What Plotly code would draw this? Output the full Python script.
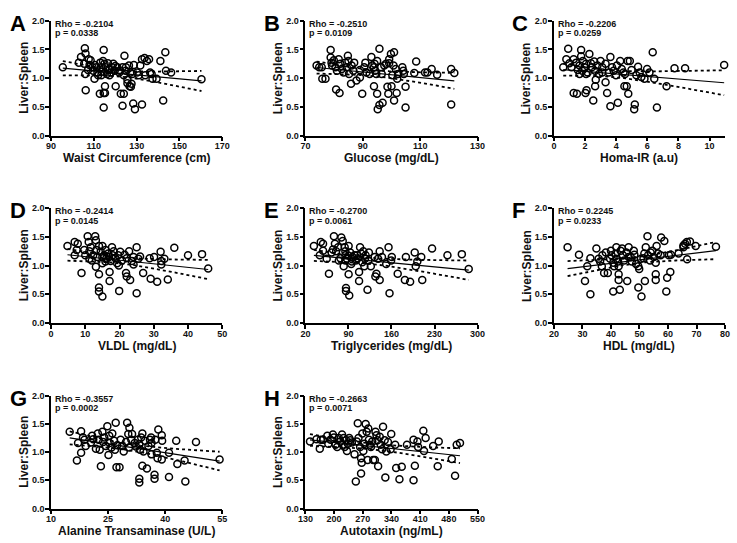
import numpy as np
import plotly.graph_objects as go

# ---------------- data ----------------
waist_x = [95.5,105.8,106.1,104,103,105.5,106,107.3,106.2,107.6,108.5,108,109.4,110.5,110.3,111.7,111.2,112.8,113,113.4,
           113.7,114.6,114.3,115,115.2,114.6,115.2,114.6,115.5,116.1,116.6,117.3,118.5,119.1,119.7,120.2,120,122.6,123.4,124,
           124.3,123.4,124.9,125.7,125.7,126.4,126.7,127.3,127.6,127.2,128.4,129.2,128.7,130.2,131,131.7,132.5,132.5,133.7,134.8,
           135.8,134,136.3,137,137.4,139.3,141.1,142.4,143.4,143.7,146.1,160.3,109.7,112,113.5,117.3,121.9,118,121,124,125,128,122]
waist_y = [1.19,1.52,1.43,1.37,1.27,1.25,1.07,1.14,0.79,1.33,1.31,1.23,1.19,1.23,0.99,1.10,1.19,0.73,1.27,1.19,
           1.11,1.49,1.30,1.25,0.86,0.74,0.74,0.49,1.19,1.07,1.26,1.14,1.19,1.25,1.13,0.86,1.21,0.73,0.52,0.73,
           1.39,1.19,1.13,0.97,0.91,1.22,0.86,0.85,0.90,1.10,0.56,0.46,1.23,1.10,1.05,1.22,0.54,1.33,1.35,1.30,
           1.33,1.05,1.10,1.07,0.99,0.99,1.30,0.61,1.45,1.13,1.10,0.98,1.13,1.05,1.05,1.05,1.10,1.10,1.19,1.05,1.19,1.07,1.13]

glucose_x = [73.9,74.8,75.7,75.9,77,78.8,78.8,79.1,79.3,79.9,80.5,81,80.7,81.9,81.6,82.2,82.7,83.3,83.9,84.4,
             84.8,85,85.2,85.9,86.1,86.7,87,87.8,89,89,89.8,90.5,90.9,91.3,92.4,93,93.3,93.9,93.9,94.1,
             94.3,94.7,95,95,95.2,95.8,95.8,96.9,96.4,96.6,97.5,98.1,98.6,98.9,99.2,99.2,99.8,100,100.3,100.7,
             100.9,100.9,101.5,101.8,102,102.3,103.8,104.1,104.9,104.9,104.3,108.6,107.95,111.7,112.5,114,115.9,120.8,120.8,121.9]
glucose_y = [1.22,1.19,1.19,0.99,0.99,1.49,1.36,1.27,1.22,1.31,1.19,1.13,0.80,0.74,1.33,1.25,1.16,1.10,1.27,1.19,
             1.39,1.30,1.07,0.90,1.22,1.13,1.27,0.96,1.01,1.14,0.73,1.19,1.27,1.10,1.07,1.37,1.22,1.19,0.86,1.25,
             1.13,1.07,1.30,0.73,0.46,1.51,0.53,0.57,1.19,1.07,1.22,1.25,0.85,0.73,1.33,1.26,1.42,0.86,1.05,1.22,
             1.45,0.61,1.16,0.74,0.99,1.07,1.19,1.13,0.85,0.49,1.07,1.29,1.09,1.10,1.10,1.16,1.06,1.16,0.54,1.09]

homa_x = [0.6,0.92,0.8,1.0,1.13,1.27,1.48,1.27,1.44,1.54,1.65,1.75,1.75,1.82,1.86,1.96,2.03,2.1,2.07,2.17,
          2.28,2.38,2.44,2.53,2.59,2.65,2.65,2.69,2.8,2.9,3.0,3.11,3.32,3.32,3.42,3.53,3.63,3.63,3.74,3.84,
          3.99,4.05,4.11,4.26,4.36,4.53,4.57,4.68,4.74,4.78,4.88,4.99,5.16,5.2,5.3,5.41,5.51,5.62,5.82,5.99,
          6.14,6.35,6.45,6.62,7.24,7.75,8.43,10.94,3.11,2.07,1.65,4.47]
homa_y = [1.19,1.51,1.33,1.26,1.19,0.74,0.73,1.33,1.27,1.14,1.22,1.49,1.38,1.13,1.30,1.19,0.74,0.79,1.25,1.10,
          1.42,1.26,1.19,0.61,1.29,1.13,0.86,0.97,1.22,1.07,1.30,1.19,0.93,1.25,0.74,1.10,1.37,0.51,1.19,1.13,
          1.05,1.22,0.57,1.30,1.16,0.86,1.07,0.86,1.30,0.73,1.30,1.14,0.46,0.54,1.05,1.20,1.10,1.02,0.99,1.16,
          1.10,1.45,0.99,0.49,0.86,1.17,1.17,1.23,1.10,1.07,1.07,1.10]

vldl_x = [4.8,6.9,7.8,6.9,7.5,8.9,9.7,10,10.7,11,11.2,11.6,11.9,12.3,12.9,13.1,13.1,13.2,13.5,14,
          14,14,14,14.5,15,15,15,15.5,15.9,16.1,16.7,17.1,17.1,17.4,17.8,18,18.3,18.8,19.3,19.6,
          19.8,19.9,20.2,20.7,21.5,21.9,22.1,22.1,22.8,23.1,23.6,24.1,24.1,25,25,25.5,26,26.9,28.8,29.1,
          30.1,31,32,32.2,32.2,33.1,34.1,36,40,44.1,45.9,16.9,15.9,11.2,15]
vldl_y = [1.34,1.41,1.38,1.18,1.27,0.87,1.27,1.18,1.51,1.41,1.25,1.32,1.09,1.18,1.51,1.44,0.98,1.27,1.15,1.34,
          0.85,0.62,0.55,1.24,1.34,0.46,1.04,1.18,1.27,1.12,1.21,0.89,0.73,1.08,1.32,1.18,1.25,1.13,1.04,1.18,
          1.00,0.56,1.24,1.09,1.19,0.87,0.81,1.13,1.25,0.75,1.08,1.02,1.15,1.32,0.52,1.12,1.16,0.87,1.13,0.77,
          1.15,0.72,1.24,1.08,1.02,1.12,0.76,1.31,1.18,1.20,0.95,1.15,1.07,1.12,1.15]

tg_x = [33.8,45,48.7,43.4,48.7,54.6,58.3,62.6,64.8,66.4,68,70,73.2,74.3,78.5,80.7,82.3,83.9,85,85,
        86,86,90.3,91.3,87.6,90.3,92.9,94.5,96.6,99.8,102,105.2,107.3,107.3,108.9,110.5,112.6,114.2,115.8,117.9,
        121,122.2,123.2,126.4,132.8,133.8,135.5,138.1,140.8,140.8,144.5,151.4,155.2,156.8,159.4,160.5,170.1,181.8,183.4,190.3,
        197.8,199.4,202,208.4,210,226,251,274.4,285.6,85,95.6,104.2,77,116.9,90.3]
tg_y = [1.34,1.41,1.38,1.18,1.26,1.12,0.86,1.23,1.28,1.51,1.38,1.25,1.32,1.09,1.49,1.43,0.99,1.32,1.25,1.18,
        0.61,0.56,0.85,0.48,1.12,1.34,1.23,1.03,1.15,1.18,1.09,1.13,0.89,0.73,1.32,1.21,1.06,1.25,0.99,1.18,
        0.58,1.09,1.23,0.99,1.15,0.81,0.86,1.12,0.75,1.25,1.15,1.03,1.32,0.52,1.09,1.15,0.86,0.75,1.15,0.72,
        1.23,0.99,1.07,1.15,0.75,1.30,1.18,1.20,0.94,1.09,1.07,1.18,1.13,1.12,1.17]

hdl_x = [24.8,28.8,30.9,31.7,32.8,32.8,34.9,35.7,36.2,36.8,37,37.6,38.2,38.9,39.7,40,40.2,40.8,40.8,41.1,
         41.6,41.9,42.5,42.7,42.7,42.7,43.1,43.4,43.9,44.2,44.6,45.4,45.7,46.2,46.9,47.3,48,48.2,48.8,49.6,
         49.6,49.9,50.5,50.7,51.4,51.7,51.9,52.2,52.8,53,53.7,53.9,54.5,55,55.7,55.7,55.7,56,56.5,57.4,
         57.6,58.7,59.4,59.7,60.3,60.8,61,63.7,65.4,66,66.6,66.7,67.7,69.7,76.8,65.4,46.2,41.9]
hdl_y = [1.32,1.19,0.73,0.99,1.13,0.50,1.30,1.12,1.07,0.99,1.18,0.87,1.23,0.87,1.12,1.26,1.18,1.05,0.55,0.99,
         1.21,1.12,1.07,0.99,0.85,0.75,0.58,1.26,1.30,1.18,1.09,1.23,0.73,1.32,1.15,1.07,1.26,1.19,1.03,0.99,
         0.62,0.94,1.12,0.46,1.13,1.21,0.73,1.32,1.51,1.18,1.09,1.23,1.26,1.15,1.05,0.85,0.75,1.34,1.21,1.18,
         1.49,1.43,0.55,0.79,1.18,0.89,1.19,1.21,1.32,1.38,1.41,1.11,1.42,1.34,1.33,1.35,1.15,1.32]

alt_x = [14.9,16.8,17.1,17.9,17.9,18.4,18.8,19.1,20.5,20.8,21.1,21.8,22.3,22.5,22.8,23.1,23.5,23.7,24,24.4,
         24.8,25.1,25.3,25.4,25.9,26.1,26.6,26.8,27,27.2,27.4,28,28.3,28.7,29.1,29.7,30,30.3,30.5,30.6,
         31.1,31.3,32,32.3,32.8,33.2,33.4,33.2,33.2,33.7,34,34,34.3,34.7,35.2,35.6,36,36.3,36.4,36.4,
         37.2,37.2,37.4,37.8,38,38.2,39.1,39.2,39.1,41,41,42.9,43.2,45.1,45.3,48.1,54.3]
alt_y = [1.36,0.85,1.16,1.37,0.99,1.26,1.22,1.11,1.17,1.29,1.23,1.06,1.33,1.22,1.04,0.75,1.36,1.18,1.26,1.11,
         1.46,0.95,1.29,1.16,1.08,1.33,1.20,1.04,1.52,0.73,1.12,0.73,1.22,1.11,1.01,1.18,1.52,1.32,1.08,1.43,
         1.22,1.32,1.16,1.10,1.22,1.14,1.04,0.53,0.46,1.26,1.33,0.76,1.01,1.20,0.71,1.11,1.22,1.26,1.16,0.96,
         0.60,0.53,1.22,0.99,0.89,1.40,1.30,1.20,0.87,0.99,0.56,1.20,0.79,0.85,0.48,1.18,0.87]

atx_x = [141.2,157.1,165.1,167.5,173.1,183.5,185.9,191.5,197.1,199.6,203.5,207.5,211.4,215.4,219.4,221,223.4,225.8,229,231.4,
         233.8,237,239.4,243.4,249.8,253,255.4,257.8,259.5,263.5,265.8,265.8,267.4,269,271.4,273.8,277,279.4,281.8,283.4,
         285,287.4,289.8,293,295.4,299.4,301,303.4,305.8,307.4,311.4,313.8,317,319.4,323.4,325,327.4,331.4,337.8,339.4,
         349,351.4,359.4,365,377.8,393.8,393.8,397,403.4,405,419.3,417.7,423.3,441.6,455.2,452.8,487.1,495.1,499.1,507.1]
atx_y = [1.19,1.23,1.06,1.22,1.22,1.29,1.15,1.22,1.31,1.26,1.13,1.09,1.25,1.19,1.31,1.13,1.25,1.09,1.21,1.02,
         1.15,1.25,1.21,1.17,0.96,0.48,1.19,1.51,1.25,1.09,0.89,0.62,0.81,1.33,1.02,1.15,1.50,1.36,0.86,1.42,
         1.22,1.13,1.09,1.19,0.86,0.86,1.36,1.30,1.21,0.75,1.27,1.13,1.05,1.45,1.21,0.55,1.01,1.18,1.05,1.32,
         1.13,0.72,0.52,0.74,1.13,1.22,0.50,0.76,1.19,1.09,1.02,1.38,1.25,1.11,1.19,0.75,0.88,0.58,1.13,1.16]

panel_letters = ["A", "B", "C", "D", "E", "F", "G", "H"]
x_titles = ["Waist Circumference (cm)", "Glucose (mg/dL)", "Homa-IR (a.u)", "VLDL (mg/dL)",
            "Triglycerides (mg/dL)", "HDL (mg/dL)", "Alanine Transaminase (U/L)", "Autotaxin (ng/mL)"]
rho_labels = ["Rho = -0.2104", "Rho = -0.2510", "Rho = -0.2206", "Rho = -0.2414",
              "Rho = -0.2700", "Rho = 0.2245", "Rho = -0.3557", "Rho = -0.2663"]
p_labels = ["p = 0.0338", "p = 0.0109", "p = 0.0259", "p = 0.0145",
            "p = 0.0061", "p = 0.0233", "p = 0.0002", "p = 0.0071"]
x_ranges = [[90, 170], [70, 130], [0, 11], [0, 50], [20, 300], [20, 80], [10, 55], [130, 550]]
x_ticks = [[90, 110, 130, 150, 170], [70, 90, 110, 130], [0, 2, 4, 6, 8, 10], [0, 10, 20, 30, 40, 50],
           [20, 90, 160, 230, 300], [20, 30, 40, 50, 60, 70, 80], [10, 25, 40, 55],
           [130, 200, 270, 340, 410, 480, 550]]
y_ticks = [0.0, 0.5, 1.0, 1.5, 2.0]
y_title = "Liver:Spleen"

xs = [waist_x, glucose_x, homa_x, vldl_x, tg_x, hdl_x, alt_x, atx_x]
ys = [waist_y, glucose_y, homa_y, vldl_y, tg_y, hdl_y, alt_y, atx_y]

# ---------------- layout geometry (pixels) ----------------
W, H = 737, 543
cols_px = [(44, 219), (304, 480), (558, 733)]
rows_px = [(16, 133), (207, 324), (398, 513)]
letter_x_px = [0, 260, 513]

FONT = "Liberation Sans, Arial, sans-serif"
TXT = "#111111"

fig = go.Figure()
annotations = []
layout_axes = {}

for i in range(8):
    r, c = divmod(i, 3)
    x0, x1 = cols_px[c]
    y0, y1 = rows_px[r]
    xd = [x0 / W, x1 / W]
    yd = [1 - y1 / H, 1 - y0 / H]
    n = i + 1
    xa = "x" if n == 1 else f"x{n}"
    ya = "y" if n == 1 else f"y{n}"
    xk = "xaxis" if n == 1 else f"xaxis{n}"
    yk = "yaxis" if n == 1 else f"yaxis{n}"

    x = np.array(xs[i], dtype=float)
    y = np.array(ys[i], dtype=float)

    # linear regression + 95% CI of the mean
    b, a = np.polyfit(x, y, 1)
    xx = np.linspace(x.min(), x.max(), 60)
    yy = a + b * xx
    resid = y - (a + b * x)
    npts = len(x)
    s = np.sqrt(np.sum(resid ** 2) / (npts - 2))
    sxx = np.sum((x - x.mean()) ** 2)
    se = s * np.sqrt(1.0 / npts + (xx - x.mean()) ** 2 / sxx)
    t = 1.985
    up = yy + t * se
    lo = yy - t * se

    fig.add_trace(go.Scatter(x=x, y=y, mode="markers", xaxis=xa, yaxis=ya,
                             marker=dict(symbol="circle-open", size=7, color="black",
                                         line=dict(width=1.5, color="black")),
                             showlegend=False, hoverinfo="skip", cliponaxis=False))
    fig.add_trace(go.Scatter(x=xx, y=yy, mode="lines", xaxis=xa, yaxis=ya,
                             line=dict(color="black", width=1.2), showlegend=False, hoverinfo="skip"))
    for band in (up, lo):
        fig.add_trace(go.Scatter(x=xx, y=band, mode="lines", xaxis=xa, yaxis=ya,
                                 line=dict(color="black", width=1.8, dash="dot"),
                                 showlegend=False, hoverinfo="skip"))

    tickfont = dict(family=FONT, size=9, color=TXT, weight="bold")
    layout_axes[xk] = dict(domain=xd, range=x_ranges[i], tickvals=x_ticks[i], anchor=ya,
                           showgrid=False, zeroline=False, showline=True, linecolor="black", linewidth=1.5,
                           ticks="outside", ticklen=4, tickwidth=1.5, tickcolor="black",
                           ticklabelstandoff=-3, tickfont=tickfont, fixedrange=True)
    layout_axes[yk] = dict(domain=yd, range=[0, 2], tickvals=y_ticks, tickformat=".1f", anchor=xa,
                           showgrid=False, zeroline=False, showline=True, linecolor="black", linewidth=1.5,
                           ticks="outside", ticklen=4, tickwidth=1.5, tickcolor="black",
                           ticklabelstandoff=-1, tickfont=tickfont, fixedrange=True)

    # panel letter
    annotations.append(dict(text=f"<b>{panel_letters[i]}</b>", xref="paper", yref="paper",
                            x=letter_x_px[c] / W, y=1 - (y0 - 12) / H, xanchor="left", yanchor="top",
                            showarrow=False, font=dict(family=FONT, size=22, color="black")))
    # rho / p text
    annotations.append(dict(text=f"<b>{rho_labels[i]}</b>", xref="paper", yref="paper",
                            x=(x0 + 2) / W, y=1 - (y0 + 3) / H, xanchor="left", yanchor="middle",
                            showarrow=False, font=dict(family=FONT, size=9, color=TXT)))
    annotations.append(dict(text=f"<b>{p_labels[i]}</b>", xref="paper", yref="paper",
                            x=(x0 + 2) / W, y=1 - (y0 + 13) / H, xanchor="left", yanchor="middle",
                            showarrow=False, font=dict(family=FONT, size=9, color=TXT)))
    # x title
    annotations.append(dict(text=f"<b>{x_titles[i]}</b>", xref="paper", yref="paper",
                            x=(x0 + x1) / 2 / W, y=1 - (y1 + 23) / H, xanchor="center", yanchor="middle",
                            borderpad=0, showarrow=False, font=dict(family=FONT, size=12, color=TXT)))
    # y title
    annotations.append(dict(text=f"<b>{y_title}</b>", xref="paper", yref="paper",
                            x=(x0 - 28) / W, y=1 - (y0 + y1) / 2 / H, xanchor="center", yanchor="middle",
                            textangle=-90, showarrow=False, font=dict(family=FONT, size=12, color=TXT)))

fig.update_layout(width=W, height=H, margin=dict(l=0, r=0, t=0, b=0),
                  paper_bgcolor="white", plot_bgcolor="white",
                  annotations=annotations, showlegend=False, **layout_axes)

fig.write_html("out.html", config={"displayModeBar": False},
               post_script="document.body.style.margin='0';document.body.style.overflow='hidden';")
